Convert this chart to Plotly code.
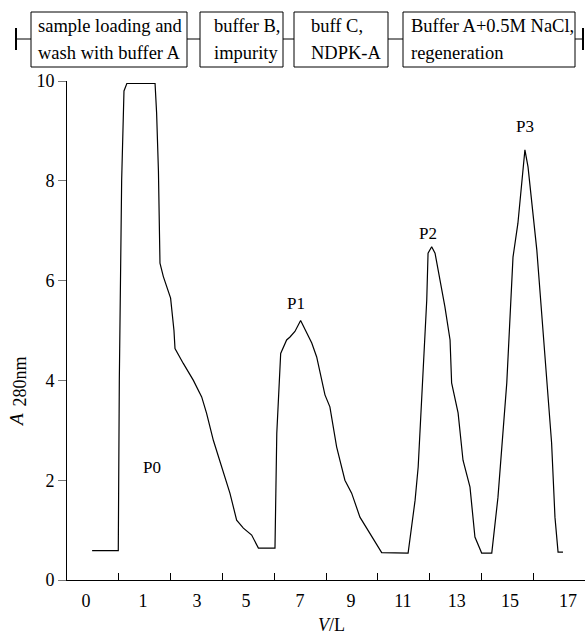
import plotly.graph_objects as go

# ---- data ----
volume_L = [-1.03, -0.02, 0.02, 0.11, 0.20, 0.31, 1.40, 1.46, 1.53, 1.59, 1.72, 2.00,
            2.13, 2.17, 2.49, 2.88, 3.20, 3.39, 3.65, 3.97, 4.29, 4.55, 4.81, 5.13,
            5.39, 6.03, 6.10, 6.25, 6.48, 6.61, 6.80, 7.02, 7.45, 7.64, 7.96, 8.15,
            8.41, 8.73, 8.99, 9.31, 9.70, 10.15, 11.17, 11.44, 11.56, 11.70, 11.82,
            11.89, 11.94, 12.08, 12.21, 12.59, 12.79, 12.85, 13.10, 13.29, 13.56,
            13.75, 14.01, 14.40, 14.64, 14.98, 15.22, 15.41, 15.68, 15.80, 16.14,
            16.38, 16.52, 16.71, 16.84, 16.96, 17.15]
a280 = [0.59, 0.59, 4.0, 8.0, 9.8, 9.95, 9.95, 9.36, 8.2, 6.35, 6.08, 5.65,
        5.0, 4.64, 4.34, 4.0, 3.67, 3.34, 2.8, 2.27, 1.74, 1.2, 1.04, 0.9,
        0.64, 0.64, 2.94, 4.54, 4.81, 4.87, 4.98, 5.2, 4.75, 4.47, 3.71, 3.47,
        2.67, 2.0, 1.74, 1.26, 0.94, 0.55, 0.54, 1.6, 2.27, 3.6, 4.95,
        5.61, 6.55, 6.68, 6.55, 5.48, 4.81, 3.95, 3.35, 2.4, 1.86,
        0.86, 0.54, 0.54, 1.66, 3.95, 6.47, 7.15, 8.62, 8.28, 6.61,
        4.95, 3.95, 2.75, 1.26, 0.56, 0.56]

x_tick_vals = [-1.27, 0.93, 3.02, 4.91, 7.0, 8.97, 10.97, 13.05, 15.1, 17.34]
x_tick_text = ["0", "1", "3", "5", "7", "9", "11", "13", "15", "17"]
x_minor_ticks = [0, 2, 4, 6, 8, 10, 12, 14, 16]
y_tick_vals = [0, 2, 4, 6, 8, 10]

peak_names = ["P0", "P1", "P2", "P3"]
peak_label_x = [1.30, 6.84, 11.94, 15.68]
peak_label_y = [2.26, 5.55, 6.95, 9.08]

step_line1 = ["sample loading and", "buffer B,", "buff C,", "Buffer A+0.5M NaCl,"]
step_line2 = ["wash with buffer A", "impurity", "NDPK-A", "regeneration"]

# ---- layout geometry (pixels) ----
W, H = 585, 634
ML, MR, MT, MB = 67, 0, 81, 54
PW, PH = W - ML - MR, H - MT - MB
FONT = "Liberation Serif, Times New Roman, serif"


def px(x):
    """screen x pixel -> paper coordinate"""
    return (x - ML) / PW


def py(y):
    """screen y pixel -> paper coordinate"""
    return (H - MB - y) / PH


fig = go.Figure()
fig.add_trace(go.Scatter(x=volume_L, y=a280, mode="lines",
                         line=dict(color="black", width=1.2),
                         hoverinfo="skip", showlegend=False, cliponaxis=False))

annotations = []
for name, xv, yv in zip(peak_names, peak_label_x, peak_label_y):
    annotations.append(dict(x=xv, y=yv, xref="x", yref="y", text=name, showarrow=False,
                            xanchor="center", yanchor="middle",
                            font=dict(family=FONT, size=17, color="black")))

# header boxes
box_x = [(31, 187), (200, 283), (294, 388), (403, 575)]
text_x = [36, 212, 309, 409]
shapes = []
line_y = 39
shapes.append(dict(type="line", xref="paper", yref="paper", x0=px(16), x1=px(583),
                   y0=py(line_y), y1=py(line_y), line=dict(color="black", width=1), layer="below"))
for bx in [16, 583]:
    shapes.append(dict(type="line", xref="paper", yref="paper", x0=px(bx), x1=px(bx),
                       y0=py(28), y1=py(50), line=dict(color="black", width=2)))
for (x0, x1), tx, t1, t2 in zip(box_x, text_x, step_line1, step_line2):
    shapes.append(dict(type="rect", xref="paper", yref="paper", x0=px(x0), x1=px(x1),
                       y0=py(67), y1=py(12), line=dict(color="black", width=1),
                       fillcolor="white", layer="above"))
    annotations.append(dict(x=px(tx), y=py(26), xref="paper", yref="paper", text=t1,
                            xanchor="left", yanchor="middle", showarrow=False,
                            font=dict(family=FONT, size=18.5, color="black")))
    annotations.append(dict(x=px(tx), y=py(53), xref="paper", yref="paper", text=t2,
                            xanchor="left", yanchor="middle", showarrow=False,
                            font=dict(family=FONT, size=18.5, color="black")))

# axis titles
annotations.append(dict(x=px(331), y=py(625), xref="paper", yref="paper",
                        text="<i>V</i>/L", showarrow=False,
                        xanchor="center", yanchor="middle",
                        font=dict(family=FONT, size=18, color="black")))
annotations.append(dict(x=px(16), y=py(420), xref="paper", yref="paper",
                        text="<i>A</i>", showarrow=False, textangle=-90,
                        xanchor="center", yanchor="middle",
                        font=dict(family=FONT, size=19, color="black")))
annotations.append(dict(x=px(19.5), y=py(382), xref="paper", yref="paper",
                        text="280nm", showarrow=False, textangle=-90,
                        xanchor="center", yanchor="middle",
                        font=dict(family=FONT, size=18, color="black")))

fig.update_layout(
    width=W, height=H,
    margin=dict(l=ML, r=MR, t=MT, b=MB),
    paper_bgcolor="white", plot_bgcolor="white",
    font=dict(family=FONT, color="black"),
    shapes=shapes, annotations=annotations,
    xaxis=dict(range=[-2, 18], showgrid=False, zeroline=False, showline=True,
               linecolor="black", linewidth=1,
               tickmode="array", tickvals=x_tick_vals, ticktext=x_tick_text,
               ticks="", ticklabelstandoff=4,
               tickfont=dict(family=FONT, size=18, color="black"),
               minor=dict(tickmode="array", tickvals=x_minor_ticks, ticks="inside",
                          ticklen=7, tickwidth=1, tickcolor="black", showgrid=False)),
    yaxis=dict(range=[0, 10], showgrid=False, zeroline=False, showline=True,
               linecolor="black", linewidth=1,
               tickmode="array", tickvals=y_tick_vals, ticks="outside",
               ticklen=8, tickwidth=1, tickcolor="#777",
               tickfont=dict(family=FONT, size=18, color="black")),
)

fig.write_html(
    "out.html",
    config={"displayModeBar": False},
    post_script="document.body.style.margin='0';"
                "document.documentElement.style.overflow='hidden';",
)
